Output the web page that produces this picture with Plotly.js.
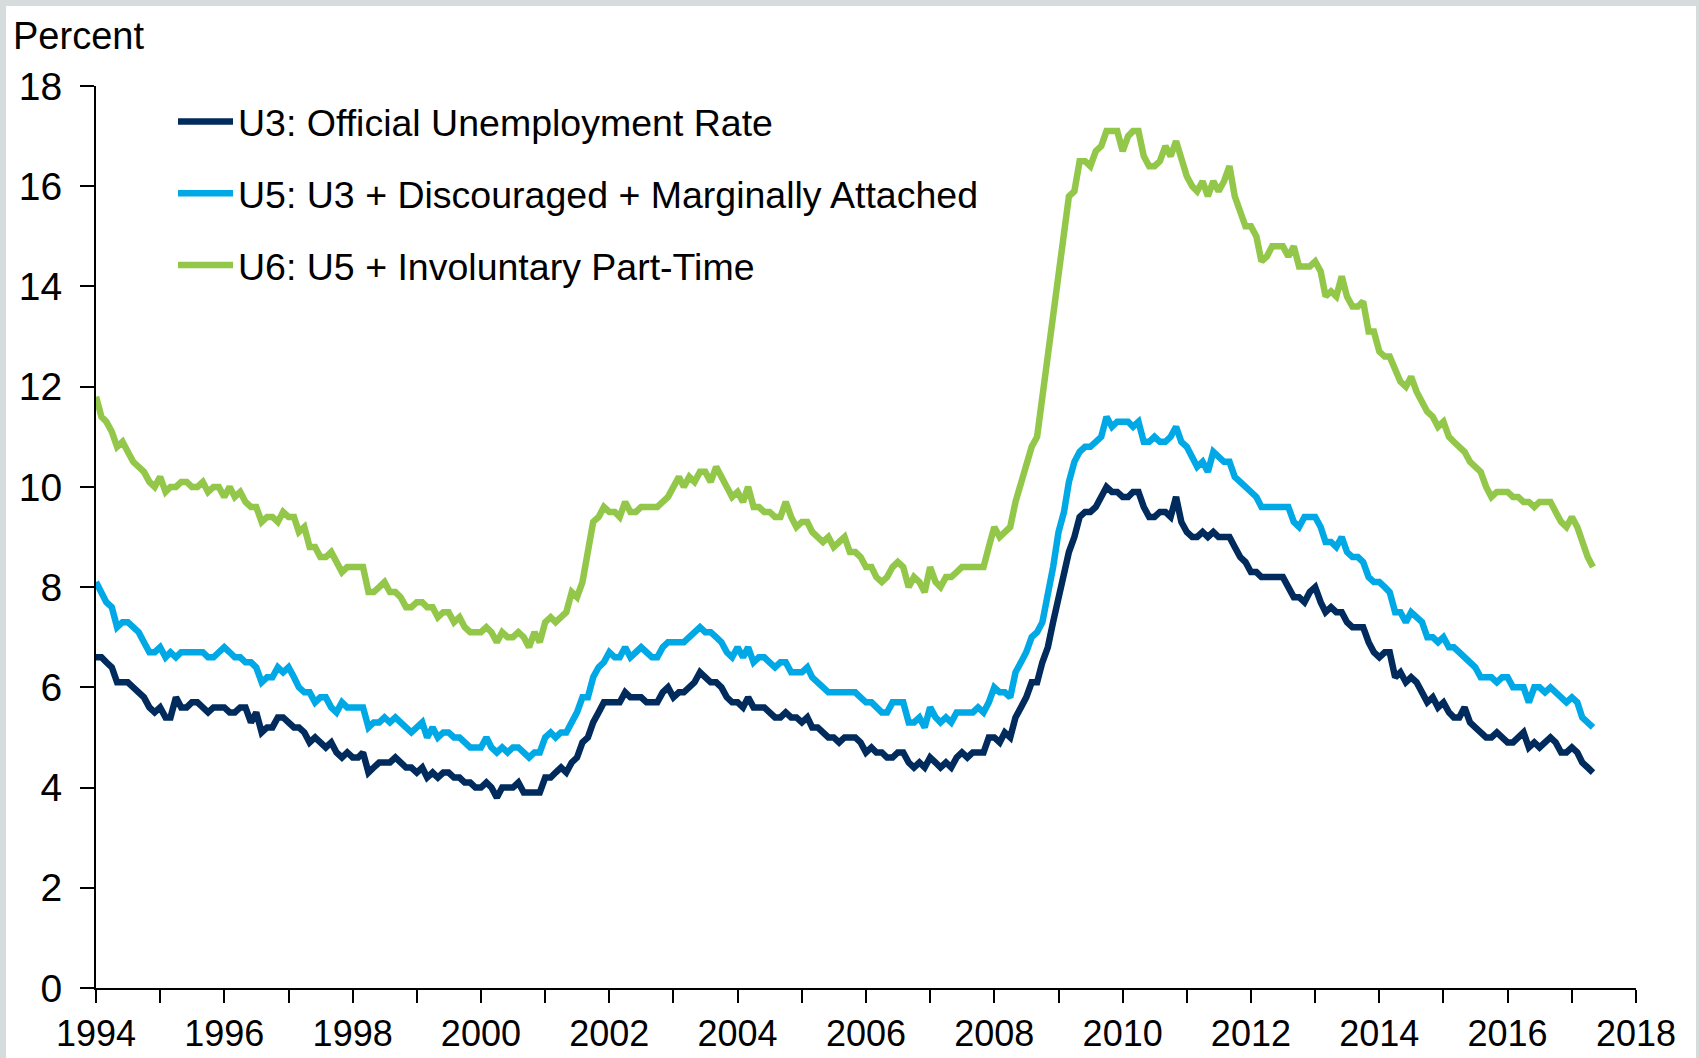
<!DOCTYPE html>
<html>
<head>
<meta charset="utf-8">
<script src="https://cdn.plot.ly/plotly-3.0.1.min.js"></script>
<style>
  html, body { margin: 0; padding: 0; background: #d6dcdb; }
  #grafico { position: absolute; left: 6px; top: 6px; width: 1690px; height: 1052px; background: #ffffff; }
</style>
</head>
<body>
<div id="grafico"></div>
<script>
// Séries mensais, jan/1994 a mai/2017 (uma linha por ano)
const anoInicial = 1994;

const u3 = [
    6.6, 6.6, 6.5, 6.4, 6.1, 6.1, 6.1, 6.0, 5.9, 5.8, 5.6, 5.5,
    5.6, 5.4, 5.4, 5.8, 5.6, 5.6, 5.7, 5.7, 5.6, 5.5, 5.6, 5.6,
    5.6, 5.5, 5.5, 5.6, 5.6, 5.3, 5.5, 5.1, 5.2, 5.2, 5.4, 5.4,
    5.3, 5.2, 5.2, 5.1, 4.9, 5.0, 4.9, 4.8, 4.9, 4.7, 4.6, 4.7,
    4.6, 4.6, 4.7, 4.3, 4.4, 4.5, 4.5, 4.5, 4.6, 4.5, 4.4, 4.4,
    4.3, 4.4, 4.2, 4.3, 4.2, 4.3, 4.3, 4.2, 4.2, 4.1, 4.1, 4.0,
    4.0, 4.1, 4.0, 3.8, 4.0, 4.0, 4.0, 4.1, 3.9, 3.9, 3.9, 3.9,
    4.2, 4.2, 4.3, 4.4, 4.3, 4.5, 4.6, 4.9, 5.0, 5.3, 5.5, 5.7,
    5.7, 5.7, 5.7, 5.9, 5.8, 5.8, 5.8, 5.7, 5.7, 5.7, 5.9, 6.0,
    5.8, 5.9, 5.9, 6.0, 6.1, 6.3, 6.2, 6.1, 6.1, 6.0, 5.8, 5.7,
    5.7, 5.6, 5.8, 5.6, 5.6, 5.6, 5.5, 5.4, 5.4, 5.5, 5.4, 5.4,
    5.3, 5.4, 5.2, 5.2, 5.1, 5.0, 5.0, 4.9, 5.0, 5.0, 5.0, 4.9,
    4.7, 4.8, 4.7, 4.7, 4.6, 4.6, 4.7, 4.7, 4.5, 4.4, 4.5, 4.4,
    4.6, 4.5, 4.4, 4.5, 4.4, 4.6, 4.7, 4.6, 4.7, 4.7, 4.7, 5.0,
    5.0, 4.9, 5.1, 5.0, 5.4, 5.6, 5.8, 6.1, 6.1, 6.5, 6.8, 7.3,
    7.8, 8.3, 8.7, 9.0, 9.4, 9.5, 9.5, 9.6, 9.8, 10.0, 9.9, 9.9,
    9.8, 9.8, 9.9, 9.9, 9.6, 9.4, 9.4, 9.5, 9.5, 9.4, 9.8, 9.3,
    9.1, 9.0, 9.0, 9.1, 9.0, 9.1, 9.0, 9.0, 9.0, 8.8, 8.6, 8.5,
    8.3, 8.3, 8.2, 8.2, 8.2, 8.2, 8.2, 8.0, 7.8, 7.8, 7.7, 7.9,
    8.0, 7.7, 7.5, 7.6, 7.5, 7.5, 7.3, 7.2, 7.2, 7.2, 6.9, 6.7,
    6.6, 6.7, 6.7, 6.2, 6.3, 6.1, 6.2, 6.1, 5.9, 5.7, 5.8, 5.6,
    5.7, 5.5, 5.4, 5.4, 5.6, 5.3, 5.2, 5.1, 5.0, 5.0, 5.1, 5.0,
    4.9, 4.9, 5.0, 5.1, 4.8, 4.9, 4.8, 4.9, 5.0, 4.9, 4.7, 4.7,
    4.8, 4.7, 4.5, 4.4, 4.3
];

const u5 = [
    8.1, 7.9, 7.7, 7.6, 7.2, 7.3, 7.3, 7.2, 7.1, 6.9, 6.7, 6.7,
    6.8, 6.6, 6.7, 6.6, 6.7, 6.7, 6.7, 6.7, 6.7, 6.6, 6.6, 6.7,
    6.8, 6.7, 6.6, 6.6, 6.5, 6.5, 6.4, 6.1, 6.2, 6.2, 6.4, 6.3,
    6.4, 6.2, 6.0, 5.9, 5.9, 5.7, 5.8, 5.8, 5.6, 5.5, 5.7, 5.6,
    5.6, 5.6, 5.6, 5.2, 5.3, 5.3, 5.4, 5.3, 5.4, 5.3, 5.2, 5.1,
    5.2, 5.3, 5.0, 5.2, 5.0, 5.1, 5.1, 5.0, 5.0, 4.9, 4.8, 4.8,
    4.8, 5.0, 4.8, 4.7, 4.8, 4.7, 4.8, 4.8, 4.7, 4.6, 4.7, 4.7,
    5.0, 5.1, 5.0, 5.1, 5.1, 5.3, 5.5, 5.8, 5.8, 6.2, 6.4, 6.5,
    6.7, 6.6, 6.6, 6.8, 6.6, 6.7, 6.8, 6.7, 6.6, 6.6, 6.8, 6.9,
    6.9, 6.9, 6.9, 7.0, 7.1, 7.2, 7.1, 7.1, 7.0, 6.9, 6.7, 6.6,
    6.8, 6.6, 6.8, 6.5, 6.6, 6.6, 6.5, 6.4, 6.5, 6.5, 6.3, 6.3,
    6.3, 6.4, 6.2, 6.1, 6.0, 5.9, 5.9, 5.9, 5.9, 5.9, 5.9, 5.8,
    5.7, 5.7, 5.6, 5.5, 5.5, 5.7, 5.7, 5.7, 5.3, 5.3, 5.4, 5.2,
    5.6, 5.4, 5.3, 5.4, 5.3, 5.5, 5.5, 5.5, 5.5, 5.6, 5.5, 5.7,
    6.0, 5.9, 5.9, 5.8, 6.3, 6.5, 6.7, 7.0, 7.1, 7.3, 7.8, 8.4,
    9.1, 9.5, 10.1, 10.5, 10.7, 10.8, 10.8, 10.9, 11.0, 11.4, 11.2, 11.3,
    11.3, 11.3, 11.2, 11.3, 10.9, 10.9, 11.0, 10.9, 10.9, 11.0, 11.2, 10.9,
    10.8, 10.6, 10.4, 10.5, 10.3, 10.7, 10.6, 10.5, 10.5, 10.2, 10.1, 10.0,
    9.9, 9.8, 9.6, 9.6, 9.6, 9.6, 9.6, 9.6, 9.3, 9.2, 9.4, 9.4,
    9.4, 9.2, 8.9, 8.9, 8.8, 9.0, 8.7, 8.6, 8.6, 8.5, 8.2, 8.1,
    8.1, 8.0, 7.9, 7.5, 7.5, 7.3, 7.5, 7.4, 7.3, 7.0, 7.0, 6.9,
    7.0, 6.8, 6.8, 6.7, 6.6, 6.5, 6.4, 6.2, 6.2, 6.2, 6.1, 6.2,
    6.2, 6.0, 6.0, 6.0, 5.7, 6.0, 6.0, 5.9, 6.0, 5.9, 5.8, 5.7,
    5.8, 5.7, 5.4, 5.3, 5.2
];

const u6 = [
    11.8, 11.4, 11.3, 11.1, 10.8, 10.9, 10.7, 10.5, 10.4, 10.3, 10.1, 10.0,
    10.2, 9.9, 10.0, 10.0, 10.1, 10.1, 10.0, 10.0, 10.1, 9.9, 10.0, 10.0,
    9.8, 10.0, 9.8, 9.9, 9.7, 9.6, 9.6, 9.3, 9.4, 9.4, 9.3, 9.5,
    9.4, 9.4, 9.1, 9.2, 8.8, 8.8, 8.6, 8.6, 8.7, 8.5, 8.3, 8.4,
    8.4, 8.4, 8.4, 7.9, 7.9, 8.0, 8.1, 7.9, 7.9, 7.8, 7.6, 7.6,
    7.7, 7.7, 7.6, 7.6, 7.4, 7.5, 7.5, 7.3, 7.4, 7.2, 7.1, 7.1,
    7.1, 7.2, 7.1, 6.9, 7.1, 7.0, 7.0, 7.1, 7.0, 6.8, 7.1, 6.9,
    7.3, 7.4, 7.3, 7.4, 7.5, 7.9, 7.8, 8.1, 8.7, 9.3, 9.4, 9.6,
    9.5, 9.5, 9.4, 9.7, 9.5, 9.5, 9.6, 9.6, 9.6, 9.6, 9.7, 9.8,
    10.0, 10.2, 10.0, 10.2, 10.1, 10.3, 10.3, 10.1, 10.4, 10.2, 10.0, 9.8,
    9.9, 9.7, 10.0, 9.6, 9.6, 9.5, 9.5, 9.4, 9.4, 9.7, 9.4, 9.2,
    9.3, 9.3, 9.1, 9.0, 8.9, 9.0, 8.8, 8.9, 9.0, 8.7, 8.7, 8.6,
    8.4, 8.4, 8.2, 8.1, 8.2, 8.4, 8.5, 8.4, 8.0, 8.2, 8.1, 7.9,
    8.4, 8.1, 8.0, 8.2, 8.2, 8.3, 8.4, 8.4, 8.4, 8.4, 8.4, 8.8,
    9.2, 9.0, 9.1, 9.2, 9.7, 10.1, 10.5, 10.8, 11.0, 11.8, 12.6, 13.6,
    14.3, 15.2, 15.8, 15.9, 16.5, 16.5, 16.4, 16.7, 16.8, 17.1, 17.1, 17.1,
    16.7, 17.0, 17.1, 17.1, 16.6, 16.4, 16.4, 16.5, 16.8, 16.6, 16.9, 16.6,
    16.2, 16.0, 15.9, 16.1, 15.8, 16.1, 15.9, 16.1, 16.4, 15.8, 15.5, 15.2,
    15.2, 15.0, 14.5, 14.6, 14.8, 14.8, 14.8, 14.6, 14.8, 14.4, 14.4, 14.4,
    14.5, 14.3, 13.8, 13.9, 13.8, 14.2, 13.8, 13.6, 13.6, 13.7, 13.1, 13.1,
    12.7, 12.6, 12.6, 12.3, 12.1, 12.0, 12.2, 11.9, 11.7, 11.5, 11.4, 11.2,
    11.3, 11.0, 10.9, 10.8, 10.7, 10.5, 10.4, 10.3, 10.0, 9.8, 9.9, 9.9,
    9.9, 9.8, 9.8, 9.7, 9.7, 9.6, 9.7, 9.7, 9.7, 9.5, 9.3, 9.2,
    9.4, 9.2, 8.9, 8.6, 8.4
];

const nomes = [
    'U3: Official Unemployment Rate',
    'U5: U3 + Discouraged + Marginally Attached',
    'U6: U5 + Involuntary Part-Time'
];
const cores = ['#002b5c', '#00a9e6', '#93c74a'];
const anosEixo = [1994, 1995, 1996, 1997, 1998, 1999, 2000, 2001, 2002, 2003, 2004, 2005,
    2006, 2007, 2008, 2009, 2010, 2011, 2012, 2013, 2014, 2015, 2016, 2017, 2018];

// Datas mensais (primeiro dia de cada mês)
const meses = u3.map((_, i) => {
    const ano = anoInicial + Math.floor(i / 12);
    const mes = String(i % 12 + 1).padStart(2, '0');
    return ano + '-' + mes + '-01';
});

const fonte = 'Liberation Sans, Arial, sans-serif';

const dados = [u3, u5, u6].map((serie, k) => ({
    x: meses,
    y: serie,
    type: 'scatter',
    mode: 'lines',
    name: nomes[k],
    legendgroup: 'g' + k,
    line: { color: cores[k], width: 6.5 }
}));

const layout = {
    width: 1690,
    height: 1052,
    margin: { l: 90, r: 60, t: 80, b: 70 },
    paper_bgcolor: '#ffffff',
    plot_bgcolor: '#ffffff',
    font: { family: fonte, size: 36, color: '#000000' },
    showlegend: true,
    legend: {
        x: 0.05, y: 0.995, xanchor: 'left', yanchor: 'top',
        bgcolor: 'rgba(0,0,0,0)',
        font: { family: fonte, size: 37.5, color: '#000000' },
        itemwidth: 55,
        tracegroupgap: 20
    },
    xaxis: {
        type: 'date',
        range: [anosEixo[0] + '-01-01', anosEixo[anosEixo.length - 1] + '-01-01'],
        tickmode: 'array',
        tickvals: anosEixo.map(a => a + '-01-01'),
        ticktext: anosEixo.map(a => (a % 2 === 0 ? String(a) : '')),
        ticks: 'outside', ticklen: 13, tickwidth: 2, tickcolor: '#000000',
        showline: true, linecolor: '#000000', linewidth: 2,
        showgrid: false, zeroline: false,
        ticklabelstandoff: 0,
        tickfont: { family: fonte, size: 36, color: '#000000' }
    },
    yaxis: {
        range: [0, 18],
        tick0: 0, dtick: 2,
        ticks: 'outside', ticklen: 14, tickwidth: 2, tickcolor: '#000000',
        showline: true, linecolor: '#000000', linewidth: 2,
        showgrid: false, zeroline: false,
        ticklabelstandoff: 10,
        tickfont: { family: fonte, size: 39, color: '#000000' }
    },
    annotations: [{
        text: 'Percent',
        xref: 'paper', yref: 'paper',
        x: -0.055, y: 1.055, xanchor: 'left', yanchor: 'middle',
        showarrow: false,
        font: { family: fonte, size: 38, color: '#000000' }
    }]
};

Plotly.newPlot('grafico', dados, layout, { displayModeBar: false, staticPlot: true });
</script>
</body>
</html>
